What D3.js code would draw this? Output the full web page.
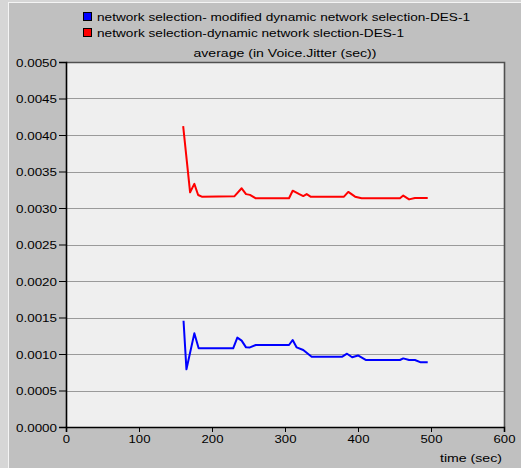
<!DOCTYPE html>
<html>
<head>
<meta charset="utf-8">
<script src="https://cdnjs.cloudflare.com/ajax/libs/d3/7.8.5/d3.min.js"></script>
<style>
  html, body { margin: 0; padding: 0; background: #c0c0c0; }
  svg { display: block; }
  text { font-family: "Liberation Sans", Arial, sans-serif; fill: #000; }
</style>
</head>
<body>
<svg id="vis" width="521" height="468"></svg>
<script>
// series: time (sec) and average jitter (sec)
const modifiedT = [161, 165, 175.8, 181.7, 229, 234.7, 240.6, 246.6, 252, 260, 305.5, 310.5, 316, 325, 336.5,
  378.5, 385, 392, 400, 410.5, 457.5, 462, 470, 478, 486, 495.5];
const modifiedV = [0.001456, 0.00079, 0.001283, 0.001078, 0.001078, 0.001224, 0.001183, 0.001091, 0.00109, 0.001123,
  0.001123, 0.001192, 0.00109, 0.001055, 0.000963, 0.000963, 0.001004, 0.000955, 0.00098, 0.000918,
  0.000918, 0.00094, 0.000918, 0.000918, 0.000886, 0.000886];

const dynamicT = [160.5, 170, 175.8, 181, 186, 230.6, 240.6, 246.6, 252, 260, 305.5, 310.5, 319.6, 325, 329.7, 335,
  380.8, 386.7, 396, 405, 457.5, 462, 470, 478, 495.5];
const dynamicV = [0.004123, 0.003215, 0.00333, 0.003178, 0.003155, 0.00316, 0.00327, 0.00319, 0.00318, 0.003133,
  0.003133, 0.003237, 0.00319, 0.003164, 0.00319, 0.003155, 0.003155, 0.00322, 0.003155, 0.003133,
  0.003133, 0.00317, 0.003118, 0.003137, 0.003137];

const legendLabels = [
  "network selection- modified dynamic network selection-DES-1",
  "network selection-dynamic network slection-DES-1"
];
const seriesColors = ["#0000ff", "#ff0000"];
const chartTitle = "average (in Voice.Jitter (sec))";
const xLabel = "time (sec)";
const xTicks = [0, 100, 200, 300, 400, 500, 600];
const yTicks = d3.range(0, 11).map(i => i * 0.0005);

const svg = d3.select("#vis");
const W = 521, H = 468;
const plot = {left: 66, right: 504, top: 62, bottom: 427};

// window chrome
svg.append("rect").attr("width", W).attr("height", H).attr("fill", "#c0c0c0");
svg.append("rect").attr("width", 8).attr("height", H).attr("fill", "#d6d6d6");
svg.append("rect").attr("width", W).attr("height", 2).attr("fill", "#d6d6d6");
svg.append("line").attr("x1", 8.5).attr("x2", 8.5).attr("y1", 2).attr("y2", H).attr("stroke", "#f4f4f4");
svg.append("line").attr("x1", 8).attr("x2", W).attr("y1", 2.5).attr("y2", 2.5).attr("stroke", "#f4f4f4");

const x = d3.scaleLinear().domain([0, 600]).range([plot.left, plot.right]);
const y = d3.scaleLinear().domain([0, 0.005]).range([plot.bottom, plot.top]);

// plot area
svg.append("rect")
  .attr("x", plot.left).attr("y", plot.top)
  .attr("width", plot.right - plot.left).attr("height", plot.bottom - plot.top)
  .attr("fill", "#efefef");

svg.append("g")
  .selectAll("line")
  .data(yTicks.slice(1, -1))
  .join("line")
  .attr("x1", plot.left).attr("x2", plot.right)
  .attr("y1", d => Math.round(y(d)) + 0.5).attr("y2", d => Math.round(y(d)) + 0.5)
  .attr("stroke", "#9a9a9a").attr("stroke-width", 1.2);

// top and right frame
svg.append("path")
  .attr("d", `M${plot.left},${plot.top + 0.5}H${plot.right + 0.5}V${plot.bottom}`)
  .attr("fill", "none").attr("stroke", "#505050").attr("stroke-width", 1.6);

// axes
const yAxis = svg.append("g")
  .attr("transform", `translate(${plot.left},0)`)
  .call(d3.axisLeft(y).tickValues(yTicks).tickFormat(d3.format(".4f")).tickSize(7).tickPadding(2));
const xAxis = svg.append("g")
  .attr("transform", `translate(0,${plot.bottom})`)
  .call(d3.axisBottom(x).tickValues(xTicks).tickFormat(d3.format("d")).tickSize(5).tickPadding(2));

[yAxis, xAxis].forEach(g => {
  g.select(".domain").attr("stroke", "#000").attr("stroke-width", 1.6);
  g.selectAll(".tick line").attr("stroke", "#000");
  g.selectAll("text").style("font-family", "'Liberation Sans', Arial, sans-serif")
    .attr("font-size", 11.5).attr("fill", "#000").attr("lengthAdjust", "spacingAndGlyphs");
});
yAxis.selectAll("text").attr("textLength", 41).attr("dy", "0.36em");
xAxis.selectAll("text").attr("textLength", d => String(d).length * 7.3).attr("dy", "0.8em");

// series
const line = d3.line().x(d => x(d[0])).y(d => y(d[1]));
const series = [
  d3.zip(modifiedT, modifiedV),
  d3.zip(dynamicT, dynamicV)
];
svg.append("g")
  .selectAll("path")
  .data(series)
  .join("path")
  .attr("d", line)
  .attr("fill", "none")
  .attr("stroke", (d, i) => seriesColors[i])
  .attr("stroke-width", 2)
  .attr("stroke-linejoin", "round");

// legend
const legendWidths = [373, 307];
const legend = svg.append("g")
  .selectAll("g")
  .data(legendLabels)
  .join("g")
  .attr("transform", (d, i) => `translate(83,${12 + i * 16})`);
legend.append("rect")
  .attr("x", 0.5).attr("y", 0.5).attr("width", 8).attr("height", 8)
  .attr("fill", (d, i) => seriesColors[i]).attr("stroke", "#000");
legend.append("text")
  .attr("x", 14).attr("y", 8.5)
  .attr("font-size", 11.5)
  .attr("textLength", (d, i) => legendWidths[i])
  .attr("lengthAdjust", "spacingAndGlyphs")
  .text(d => d);

// title and axis label
svg.append("text")
  .attr("x", (plot.left + plot.right) / 2).attr("y", 57)
  .attr("text-anchor", "middle").attr("font-size", 11.5)
  .attr("textLength", 183).attr("lengthAdjust", "spacingAndGlyphs")
  .text(chartTitle);
svg.append("text")
  .attr("x", 502).attr("y", 462)
  .attr("text-anchor", "end").attr("font-size", 11.5)
  .attr("textLength", 62).attr("lengthAdjust", "spacingAndGlyphs")
  .text(xLabel);
</script>
</body>
</html>
